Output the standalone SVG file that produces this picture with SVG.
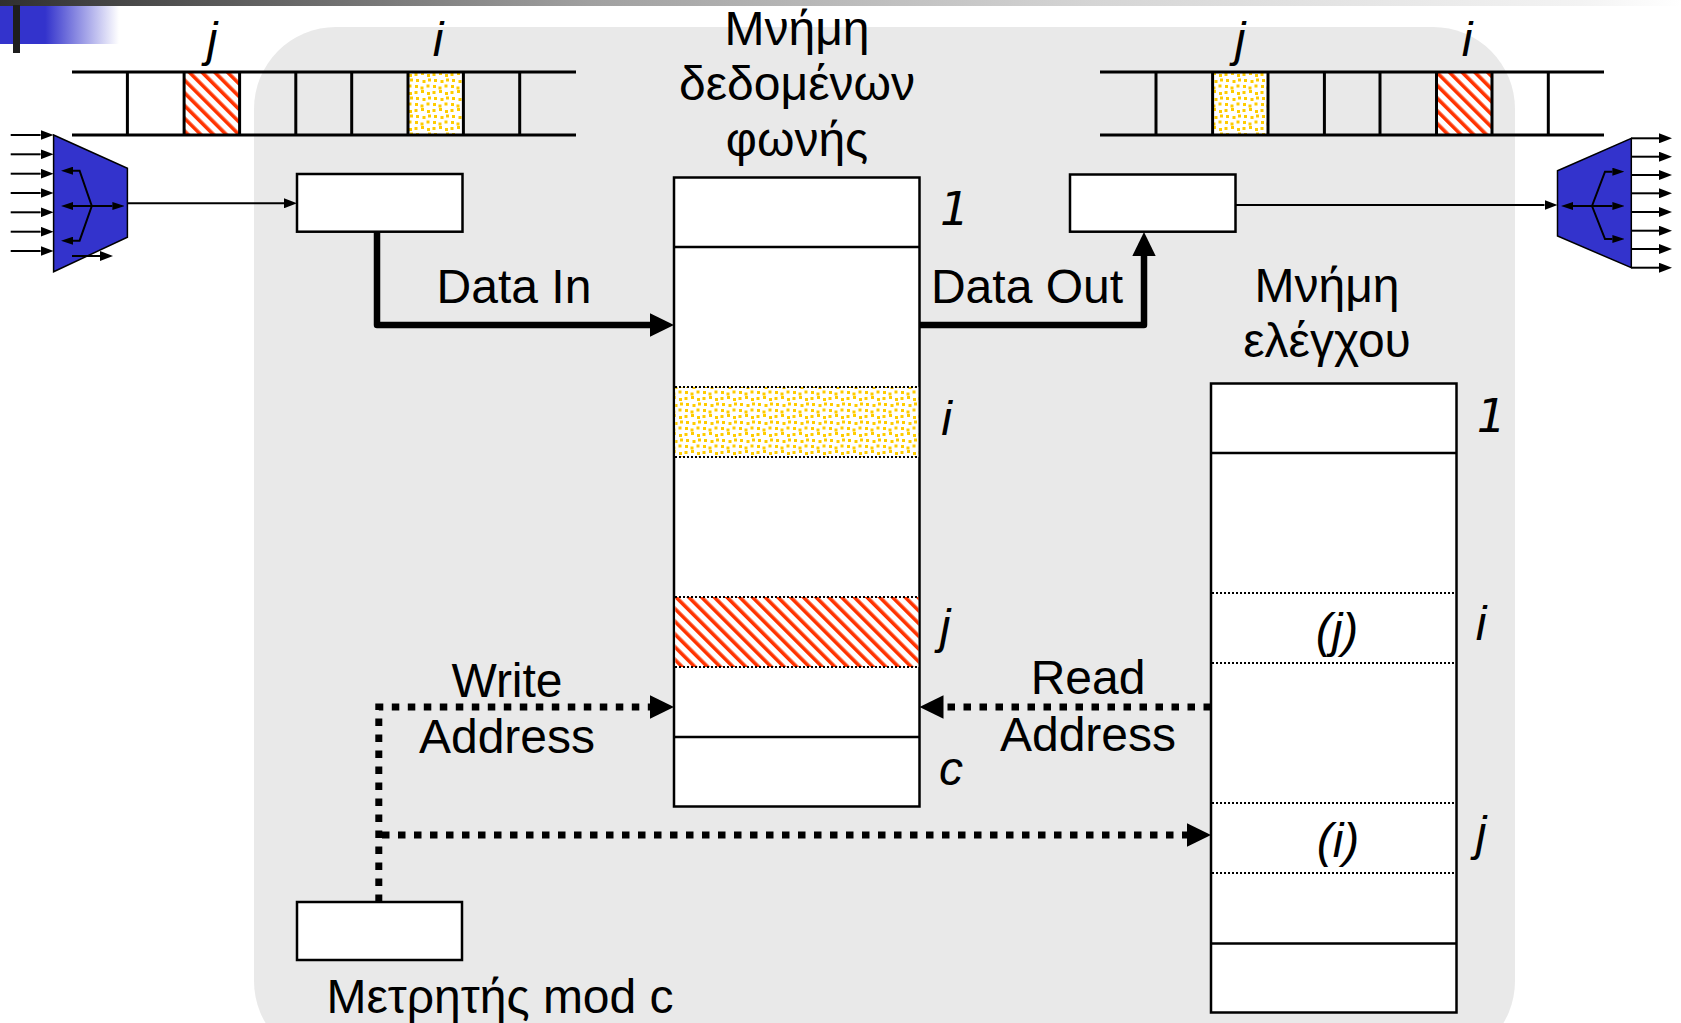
<svg xmlns="http://www.w3.org/2000/svg" width="1681" height="1023" viewBox="0 0 1681 1023">
<style>
.t{font-family:"Liberation Sans",Arial,sans-serif;font-size:48px;fill:#000}
.it{font-style:italic}
.one{font-family:"DejaVu Sans",sans-serif;font-size:46px;font-style:italic;fill:#000}
.box{fill:#fff;stroke:#000;stroke-width:2.5}
.sep{stroke:#000;stroke-width:2.5}
.dot{stroke:#000;stroke-width:2;stroke-dasharray:2 2}
.tape{stroke:#000;stroke-width:3}
.thin{fill:none;stroke:#000;stroke-width:2}
.thick{fill:none;stroke:#000;stroke-width:6.5;stroke-linejoin:round}
.dash{fill:none;stroke:#000;stroke-width:7;stroke-dasharray:7.5 8.5}
.mux{fill:#3333cc;stroke:#000;stroke-width:1.5}
</style>
<defs>
<linearGradient id="topbar" x1="0" y1="0" x2="1" y2="0">
<stop offset="0" stop-color="#303030"/>
<stop offset="0.35" stop-color="#a0a0a0"/>
<stop offset="0.65" stop-color="#d5d5d5"/>
<stop offset="0.94" stop-color="#f3f3f3"/>
<stop offset="1" stop-color="#ffffff"/>
</linearGradient>
<linearGradient id="bluebar" x1="0" y1="0" x2="1" y2="0">
<stop offset="0" stop-color="#3333cc"/>
<stop offset="0.38" stop-color="#3333cc"/>
<stop offset="1" stop-color="#ffffff"/>
</linearGradient>
<pattern id="hatch" width="9" height="9" patternUnits="userSpaceOnUse" patternTransform="rotate(-45)">
<rect width="9" height="9" fill="#fff"/>
<rect width="3.6" height="9" fill="#ff3300"/>
</pattern>
<pattern id="dots" width="18" height="18" patternUnits="userSpaceOnUse">
<rect width="18" height="18" fill="#fff"/>
<g fill="#ffcc00">
<rect x="0.5" y="1" width="3" height="3"/>
<rect x="7" y="0" width="3" height="3"/>
<rect x="13" y="2" width="3" height="3"/>
<rect x="2" y="7" width="3" height="3"/>
<rect x="8.5" y="8" width="3" height="3"/>
<rect x="14" y="6.5" width="3" height="3"/>
<rect x="1" y="13" width="3" height="3"/>
<rect x="6.5" y="14.5" width="3" height="3"/>
<rect x="12.5" y="12.5" width="3" height="3"/>
</g>
</pattern>
<marker id="a" viewBox="0 0 13 10" refX="0" refY="5" markerWidth="13" markerHeight="10" markerUnits="userSpaceOnUse" orient="auto-start-reverse">
<path d="M0,0L13,5L0,10z" fill="#000"/>
</marker>
<marker id="s" viewBox="0 0 12 8" refX="0" refY="4" markerWidth="12" markerHeight="8" markerUnits="userSpaceOnUse" orient="auto-start-reverse">
<path d="M0,0L12,4L0,8z" fill="#000"/>
</marker>
<marker id="A" viewBox="0 0 24 23.4" refX="0" refY="11.7" markerWidth="24" markerHeight="23.4" markerUnits="userSpaceOnUse" orient="auto">
<path d="M0,0L24,11.7L0,23.4z" fill="#000"/>
</marker>
</defs>

<rect width="1681" height="1023" fill="#fff"/>
<g id="background">
<rect x="254" y="27" width="1261" height="1036" rx="82" ry="82" fill="#e9e9e9"/>
<rect x="0" y="0" width="1681" height="6" fill="url(#topbar)"/>
<rect x="0" y="6" width="119" height="38" fill="url(#bluebar)"/>
<rect x="13" y="5" width="7" height="48" fill="#1e1e1e"/>
</g>

<g id="input-frame">
<rect x="184.1" y="72" width="55.5" height="63" fill="url(#hatch)"/>
<rect x="408" y="72" width="55.4" height="63" fill="url(#dots)"/>
<line class="tape" x1="72" y1="72" x2="576" y2="72"/>
<line class="tape" x1="72" y1="135" x2="576" y2="135"/>
<g class="tape">
<line x1="127.4" y1="72" x2="127.4" y2="135"/>
<line x1="184.1" y1="72" x2="184.1" y2="135"/>
<line x1="239.6" y1="72" x2="239.6" y2="135"/>
<line x1="295.8" y1="72" x2="295.8" y2="135"/>
<line x1="351.7" y1="72" x2="351.7" y2="135"/>
<line x1="408" y1="72" x2="408" y2="135"/>
<line x1="463.4" y1="72" x2="463.4" y2="135"/>
<line x1="519.7" y1="72" x2="519.7" y2="135"/>
</g>
<text class="t it" x="212" y="56" text-anchor="middle">j</text>
<text class="t it" x="438" y="56" text-anchor="middle">i</text>
</g>

<g id="output-frame">
<rect x="1212.6" y="72" width="55.4" height="63" fill="url(#dots)"/>
<rect x="1436.5" y="72" width="55.5" height="63" fill="url(#hatch)"/>
<line class="tape" x1="1100" y1="72" x2="1604" y2="72"/>
<line class="tape" x1="1100" y1="135" x2="1604" y2="135"/>
<g class="tape">
<line x1="1156" y1="72" x2="1156" y2="135"/>
<line x1="1212.6" y1="72" x2="1212.6" y2="135"/>
<line x1="1268" y1="72" x2="1268" y2="135"/>
<line x1="1324.4" y1="72" x2="1324.4" y2="135"/>
<line x1="1380" y1="72" x2="1380" y2="135"/>
<line x1="1436.5" y1="72" x2="1436.5" y2="135"/>
<line x1="1492" y1="72" x2="1492" y2="135"/>
<line x1="1548.3" y1="72" x2="1548.3" y2="135"/>
</g>
<text class="t it" x="1240" y="56" text-anchor="middle">j</text>
<text class="t it" x="1467" y="56" text-anchor="middle">i</text>
</g>

<g id="mux-in">
<polygon class="mux" points="53.6,135 127.4,168.3 127.4,237.3 53.6,271.7"/>
<g class="thin">
<line x1="10.7" y1="135" x2="40.6" y2="135" marker-end="url(#a)"/>
<line x1="10.7" y1="154.3" x2="40.6" y2="154.3" marker-end="url(#a)"/>
<line x1="10.7" y1="173.7" x2="40.6" y2="173.7" marker-end="url(#a)"/>
<line x1="10.7" y1="193" x2="40.6" y2="193" marker-end="url(#a)"/>
<line x1="10.7" y1="212.3" x2="40.6" y2="212.3" marker-end="url(#a)"/>
<line x1="10.7" y1="231.7" x2="40.6" y2="231.7" marker-end="url(#a)"/>
<line x1="10.7" y1="251" x2="40.6" y2="251" marker-end="url(#a)"/>
<line x1="73" y1="206" x2="112.4" y2="206" marker-start="url(#s)" marker-end="url(#s)"/>
<polyline points="91.8,206 79.6,170.7 73,170.7" marker-end="url(#s)"/>
<polyline points="91.8,206 79.6,240.7 73,240.7" marker-end="url(#s)"/>
<line x1="72" y1="256" x2="100" y2="256" marker-end="url(#a)"/>
</g>
</g>

<g id="mux-out">
<polygon class="mux" points="1557.5,170.7 1631.3,138.3 1631.3,267.7 1557.5,236"/>
<g class="thin">
<line x1="1631.3" y1="138.3" x2="1659" y2="138.3" marker-end="url(#a)"/>
<line x1="1631.3" y1="156.7" x2="1659" y2="156.7" marker-end="url(#a)"/>
<line x1="1631.3" y1="175" x2="1659" y2="175" marker-end="url(#a)"/>
<line x1="1631.3" y1="193.3" x2="1659" y2="193.3" marker-end="url(#a)"/>
<line x1="1631.3" y1="212" x2="1659" y2="212" marker-end="url(#a)"/>
<line x1="1631.3" y1="230.7" x2="1659" y2="230.7" marker-end="url(#a)"/>
<line x1="1631.3" y1="249" x2="1659" y2="249" marker-end="url(#a)"/>
<line x1="1631.3" y1="267.7" x2="1659" y2="267.7" marker-end="url(#a)"/>
<line x1="1573" y1="206" x2="1612.4" y2="206" marker-start="url(#s)" marker-end="url(#s)"/>
<polyline points="1592,206 1605,171.7 1612.4,171.7" marker-end="url(#s)"/>
<polyline points="1592,206 1605,239 1612.4,239" marker-end="url(#s)"/>
</g>
</g>

<g id="reg-in">
<rect class="box" x="297" y="174" width="165.5" height="57.7"/>
</g>
<g id="reg-out">
<rect class="box" x="1070" y="174.5" width="165.5" height="57.2"/>
</g>
<g id="counter">
<rect class="box" x="297" y="902" width="165" height="58"/>
<text class="t" x="500" y="1013" text-anchor="middle">Μετρητής mod c</text>
</g>

<g id="data-memory">
<rect class="box" x="674" y="177.5" width="245.5" height="629"/>
<rect x="675.3" y="387" width="243" height="70" fill="url(#dots)"/>
<rect x="675.3" y="597" width="243" height="70" fill="url(#hatch)"/>
<line class="sep" x1="674" y1="247" x2="919.5" y2="247"/>
<line class="sep" x1="674" y1="737" x2="919.5" y2="737"/>
<line class="dot" x1="675" y1="387" x2="918.5" y2="387"/>
<line class="dot" x1="675" y1="457" x2="918.5" y2="457"/>
<line class="dot" x1="675" y1="597" x2="918.5" y2="597"/>
<line class="dot" x1="675" y1="667" x2="918.5" y2="667"/>
<text class="t" x="797" y="45" text-anchor="middle">Μνήμη</text>
<text class="t" x="797" y="100" text-anchor="middle">δεδομένων</text>
<text class="t" x="797" y="155.5" text-anchor="middle">φωνής</text>
<text class="one" x="940" y="225">1</text>
<text class="t it" x="946.5" y="435" text-anchor="middle">i</text>
<text class="t it" x="945" y="643" text-anchor="middle">j</text>
<text class="t it" x="951" y="785" text-anchor="middle">c</text>
</g>

<g id="control-memory">
<rect class="box" x="1211" y="383.5" width="245.5" height="629"/>
<line class="sep" x1="1211" y1="453" x2="1456.5" y2="453"/>
<line class="sep" x1="1211" y1="943.5" x2="1456.5" y2="943.5"/>
<line class="dot" x1="1212" y1="593" x2="1455.5" y2="593"/>
<line class="dot" x1="1212" y1="663" x2="1455.5" y2="663"/>
<line class="dot" x1="1212" y1="803" x2="1455.5" y2="803"/>
<line class="dot" x1="1212" y1="873" x2="1455.5" y2="873"/>
<text class="t" x="1327" y="301.7" text-anchor="middle">Μνήμη</text>
<text class="t" x="1327" y="357.3" text-anchor="middle">ελέγχου</text>
<text class="one" x="1476.7" y="431.7">1</text>
<text class="t it" x="1481" y="640" text-anchor="middle">i</text>
<text class="t it" x="1481" y="850" text-anchor="middle">j</text>
<text class="t it" x="1337" y="647" text-anchor="middle">(j)</text>
<text class="t it" x="1338" y="857" text-anchor="middle">(i)</text>
</g>

<g id="connectors">
<line class="thin" x1="127.4" y1="203.3" x2="284" y2="203.3" marker-end="url(#a)"/>
<line class="thin" x1="1236" y1="205" x2="1544.5" y2="205" marker-end="url(#a)"/>
<path class="thick" d="M377,231.7V325H650" marker-end="url(#A)"/>
<path class="thick" d="M920,325H1144V256" marker-end="url(#A)"/>
<path class="dash" d="M378.8,902V707H650" marker-end="url(#A)"/>
<path class="dash" d="M1211,707H943.5" marker-end="url(#A)"/>
<path class="dash" d="M382,835H1187" marker-end="url(#A)"/>
<text class="t" x="514" y="302.5" text-anchor="middle">Data In</text>
<text class="t" x="1027" y="303" text-anchor="middle">Data Out</text>
<text class="t" x="507" y="696.5" text-anchor="middle">Write</text>
<text class="t" x="507" y="753" text-anchor="middle">Address</text>
<text class="t" x="1088" y="694.3" text-anchor="middle">Read</text>
<text class="t" x="1088" y="751" text-anchor="middle">Address</text>
</g>
</svg>
